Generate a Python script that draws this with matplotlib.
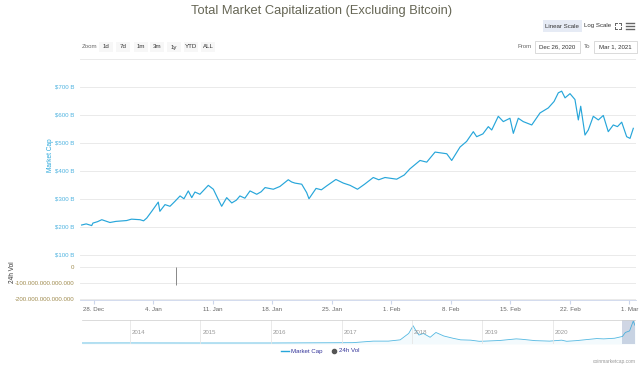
import matplotlib
matplotlib.use("Agg")
import matplotlib.pyplot as plt
from matplotlib.patches import Rectangle
import pandas as pd

# market cap (excluding BTC), $B
cap_times = [
    "2020-12-26 13:00", "2020-12-27 02:00", "2020-12-27 17:30", "2020-12-27 21:00",
    "2020-12-28 10:00", "2020-12-28 22:00", "2020-12-29 21:00", "2020-12-30 14:00",
    "2020-12-31 20:00", "2021-01-01 10:00", "2021-01-02 10:00", "2021-01-02 20:00",
    "2021-01-03 05:00", "2021-01-03 19:00", "2021-01-04 13:30", "2021-01-04 18:00",
    "2021-01-05 08:30", "2021-01-05 22:30", "2021-01-06 12:00", "2021-01-07 03:00",
    "2021-01-07 14:00", "2021-01-08 02:15", "2021-01-08 12:00", "2021-01-08 21:00",
    "2021-01-09 11:00", "2021-01-10 10:45", "2021-01-11 01:00", "2021-01-11 15:00",
    "2021-01-12 00:30", "2021-01-12 14:40", "2021-01-13 05:00", "2021-01-13 18:00",
    "2021-01-14 04:00", "2021-01-14 18:00", "2021-01-15 08:30", "2021-01-16 03:30",
    "2021-01-16 16:00", "2021-01-17 03:00", "2021-01-18 02:15", "2021-01-18 21:00",
    "2021-01-19 20:30", "2021-01-20 06:00", "2021-01-20 15:30", "2021-01-21 10:30",
    "2021-01-22 00:30", "2021-01-22 07:00", "2021-01-23 03:00", "2021-01-23 18:00",
    "2021-01-24 09:00", "2021-01-25 11:00", "2021-01-26 08:00", "2021-01-27 03:00",
    "2021-01-28 00:00", "2021-01-28 20:00", "2021-01-29 20:30", "2021-01-30 12:00",
    "2021-01-31 05:40", "2021-02-01 14:40", "2021-02-02 12:00", "2021-02-03 04:00",
    "2021-02-04 08:30", "2021-02-05 03:30", "2021-02-06 03:00", "2021-02-07 12:00",
    "2021-02-08 02:00", "2021-02-09 01:30", "2021-02-09 20:00", "2021-02-10 15:00",
    "2021-02-11 00:30", "2021-02-11 18:00", "2021-02-12 09:20", "2021-02-12 19:00",
    "2021-02-13 13:30", "2021-02-14 03:40", "2021-02-14 22:30", "2021-02-15 08:00",
    "2021-02-15 22:00", "2021-02-16 12:00", "2021-02-17 12:00", "2021-02-18 11:20",
    "2021-02-19 10:45", "2021-02-20 03:00", "2021-02-20 15:00", "2021-02-21 00:30",
    "2021-02-21 10:00", "2021-02-22 00:00", "2021-02-22 14:00", "2021-02-22 23:30",
    "2021-02-23 06:15", "2021-02-23 18:20", "2021-02-24 03:40", "2021-02-24 17:45",
    "2021-02-25 08:00", "2021-02-25 22:00", "2021-02-26 12:00", "2021-02-27 02:15",
    "2021-02-27 14:00", "2021-02-28 02:00", "2021-02-28 16:00", "2021-03-01 01:30",
    "2021-03-01 10:45",
]
cap_values = [
    206, 210, 204, 213,
    218, 225, 215, 219,
    222, 227, 225, 221,
    231, 255, 288, 255,
    279, 273, 290, 310,
    300, 328, 304, 324,
    316, 348, 334, 297,
    273, 304, 285, 295,
    310, 302, 328, 316,
    325, 340, 334, 344,
    368, 360, 356, 352,
    322, 300, 337, 332,
    346, 369, 356, 348,
    334, 352, 376, 368,
    376, 370, 385, 407,
    437, 431, 467, 461,
    437, 485, 505, 540,
    522, 532, 558, 546,
    595, 576, 588, 534,
    588, 576, 564, 607,
    625, 648, 679, 685,
    661, 676, 655, 582,
    631, 528, 546, 595,
    582, 598, 540, 564,
    558, 574, 522, 516,
    552,
]

# 24h volume pane
vol_times = ["2021-01-06 16:00"]
vol_values = [-1.1e14]

# navigator (full history), $B
nav_times = [
    "2013-04-28", "2013-12-01", "2014-06-01", "2015-01-01", "2016-01-01",
    "2016-06-01", "2017-01-01", "2017-03-01", "2017-05-01", "2017-06-15",
    "2017-09-01", "2017-11-01", "2017-12-15", "2018-01-07", "2018-01-20",
    "2018-02-06", "2018-03-01", "2018-04-05", "2018-05-05", "2018-06-15",
    "2018-08-01", "2018-09-10", "2018-11-01", "2018-12-15", "2019-01-15",
    "2019-04-01", "2019-06-25", "2019-07-20", "2019-10-01", "2019-12-15",
    "2020-02-15", "2020-03-12", "2020-05-01", "2020-08-15", "2020-09-20",
    "2020-11-15", "2020-12-26", "2021-01-10", "2021-02-01", "2021-02-20",
    "2021-03-01",
]
nav_values = [
    1.5, 3, 2, 1, 1.5,
    5, 10, 12, 40, 60,
    60, 100, 300, 540, 400,
    250, 300, 180, 330, 220,
    150, 100, 90, 55, 60,
    80, 130, 120, 75, 60,
    90, 55, 75, 140, 130,
    150, 206, 330, 380, 685,
    552,
]

cap_ticks = [100, 200, 300, 400, 500, 600, 700, 800]
vol_ticks = [0, -1e14, -2e14]
vol_labels = ["0", "-100.000.000.000.000", "-200.000.000.000.000"]
date_ticks = ["2020-12-28", "2021-01-04", "2021-01-11", "2021-01-18", "2021-01-25",
              "2021-02-01", "2021-02-08", "2021-02-15", "2021-02-22", "2021-03-01"]
date_labels = ["28. Dec", "4. Jan", "11. Jan", "18. Jan", "25. Jan",
               "1. Feb", "8. Feb", "15. Feb", "22. Feb", "1. Mar"]
years = [2014, 2015, 2016, 2017, 2018, 2019, 2020]

W, H = 640, 365
BLUE = "#27a6da"
GRID = "#e6e6e6"
TXT = "#666666"
FS = 4.4

plt.rcParams["font.family"] = ["Liberation Sans", "DejaVu Sans"]


def box(x0, y0, x1, y1):
    # pixel box -> figure fraction rect
    return [x0 / W, 1 - y1 / H, (x1 - x0) / W, (y1 - y0) / H]


def fx(px):
    return px / W


def fy(py):
    return 1 - py / H


fig = plt.figure(figsize=(6.4, 3.65), dpi=100)
fig.patch.set_facecolor("white")

cap_t = pd.to_datetime(cap_times)
t0 = pd.Timestamp("2020-12-28")
xmin = t0 + pd.Timedelta(days=(80 - 94) / 8.5)
xmax = t0 + pd.Timedelta(days=(636 - 94) / 8.5)

# main pane
ax = fig.add_axes(box(80, 59, 636, 258))
ax.plot(cap_t, cap_values, color=BLUE, lw=0.85)
ax.set_xlim(xmin, xmax)
ax.set_ylim(88, 800)
ax.set_yticks(cap_ticks)
ax.set_yticklabels([f"${v} B" if v < 800 else "" for v in cap_ticks])
ax.tick_params(axis="y", length=0, labelsize=FS, labelcolor="#4fb3e0", pad=4)
ax.set_xticks([])
ax.grid(axis="y", color=GRID, lw=0.6)
for s in ax.spines.values():
    s.set_visible(False)
fig.text(fx(51), fy(155), "Market Cap", rotation=90, ha="center", va="center",
         fontsize=FS + 0.3, color=BLUE)

# volume pane
axv = fig.add_axes(box(80, 262, 636, 300))
axv.vlines(pd.to_datetime(vol_times), 0, vol_values, color="#888888", lw=0.7)
axv.set_xlim(xmin, xmax)
axv.set_ylim(-2.05e14, 0.3e14)
axv.set_yticks(vol_ticks)
axv.set_yticklabels(vol_labels)
axv.tick_params(axis="y", length=0, labelsize=FS, labelcolor="#a08c50", pad=4)
axv.grid(axis="y", color=GRID, lw=0.6)
for s in axv.spines.values():
    s.set_visible(False)
axv.spines["bottom"].set_visible(True)
axv.spines["bottom"].set_color("#ccd6eb")
axv.spines["bottom"].set_linewidth(0.6)
axv.set_xticks(pd.to_datetime(date_ticks))
axv.set_xticklabels(date_labels)
axv.tick_params(axis="x", length=3, color="#ccd6eb", labelsize=FS, labelcolor=TXT, pad=2)
fig.text(fx(12), fy(272), "24h Vol", rotation=90, ha="center", va="center",
         fontsize=FS + 0.3, color="#333333")

# navigator
axn = fig.add_axes(box(82, 320, 635, 344))
nav_t = pd.to_datetime(nav_times)
axn.plot(nav_t, nav_values, color=BLUE, lw=0.6, alpha=0.8)
axn.fill_between(nav_t, nav_values, -30, color=BLUE, alpha=0.05, lw=0)
nx0 = pd.Timestamp("2013-04-28")
nx1 = pd.Timestamp("2021-03-01")
axn.set_xlim(nx0, nx1)
axn.set_ylim(-30, 720)
for yr in years:
    d = pd.Timestamp(f"{yr}-01-01")
    axn.axvline(d, color="#e6e6e6", lw=0.6)
    axn.text(d + pd.Timedelta(days=10), 330, str(yr), fontsize=FS, color="#999999", va="center")
axn.axvspan(pd.Timestamp("2020-12-26"), nx1, color="#667aa8", alpha=0.3, lw=0)
axn.set_xticks([])
axn.set_yticks([])
for s in axn.spines.values():
    s.set_visible(False)
axn.spines["top"].set_visible(True)
axn.spines["top"].set_color("#cccccc")
axn.spines["top"].set_linewidth(0.5)

# title and toolbar
fig.text(fx(322), fy(11), "Total Market Capitalization (Excluding Bitcoin)",
         ha="center", va="center", fontsize=9.3, color="#666655")

fig.patches.append(Rectangle((fx(543), fy(32)), fx(582) - fx(543), fy(20) - fy(32),
                             transform=fig.transFigure, color="#e6ebf5", lw=0))
fig.text(fx(562), fy(26), "Linear Scale", ha="center", va="center", fontsize=FS, color="#333333")
fig.text(fx(598), fy(26), "Log Scale", ha="center", va="center", fontsize=FS, color="#333333")
# fullscreen icon (four corner arrows)
for sx in (-1, 1):
    for sy in (-1, 1):
        cx, cy = 618 + sx * 3, 26 + sy * 3
        fig.add_artist(plt.Line2D([fx(cx), fx(cx - sx * 1.8)], [fy(cy), fy(cy)], color="#666666", lw=0.7))
        fig.add_artist(plt.Line2D([fx(cx), fx(cx)], [fy(cy), fy(cy - sy * 1.8)], color="#666666", lw=0.7))
for dy in (-3, 0, 3):
    fig.add_artist(plt.Line2D([fx(626), fx(634)], [fy(26 + dy)] * 2, color="#666666", lw=1.0))

fig.text(fx(82), fy(47), "Zoom", ha="left", va="center", fontsize=FS, color=TXT)
for lab, px in zip(["1d", "7d", "1m", "3m", "1y", "YTD", "ALL"],
                   [106, 123, 141, 157, 174, 191, 208]):
    fig.patches.append(Rectangle((fx(px - 7), fy(52)), fx(14), fy(42) - fy(52),
                                 transform=fig.transFigure, color="#f7f7f7", lw=0))
    fig.text(fx(px), fy(47), lab, ha="center", va="center", fontsize=FS, color="#333333")

fig.text(fx(518), fy(47), "From", ha="left", va="center", fontsize=FS, color=TXT)
fig.text(fx(584), fy(47), "To", ha="left", va="center", fontsize=FS, color=TXT)
for (a, b), lab in zip([(535, 580), (594, 637)], ["Dec 26, 2020", "Mar 1, 2021"]):
    fig.patches.append(Rectangle((fx(a), fy(53)), fx(b) - fx(a), fy(41) - fy(53),
                                 transform=fig.transFigure, facecolor="white",
                                 edgecolor="#cccccc", lw=0.5))
    fig.text(fx((a + b) / 2), fy(47), lab, ha="center", va="center", fontsize=FS, color="#333333")

# legend
fig.add_artist(plt.Line2D([fx(281), fx(289)], [fy(351)] * 2, color=BLUE, lw=1.0))
fig.text(fx(291), fy(351), "Market Cap", ha="left", va="center", fontsize=FS, color="#333399")
fig.add_artist(plt.Line2D([fx(334)], [fy(351)], marker="o", ms=3, color="#555555"))
fig.text(fx(339), fy(351), "24h Vol", ha="left", va="center", fontsize=FS, color="#333399")
fig.text(fx(636), fy(361), "coinmarketcap.com", ha="right", va="center", fontsize=3.5, color="#999999")

fig.savefig("out.png", dpi=100)
